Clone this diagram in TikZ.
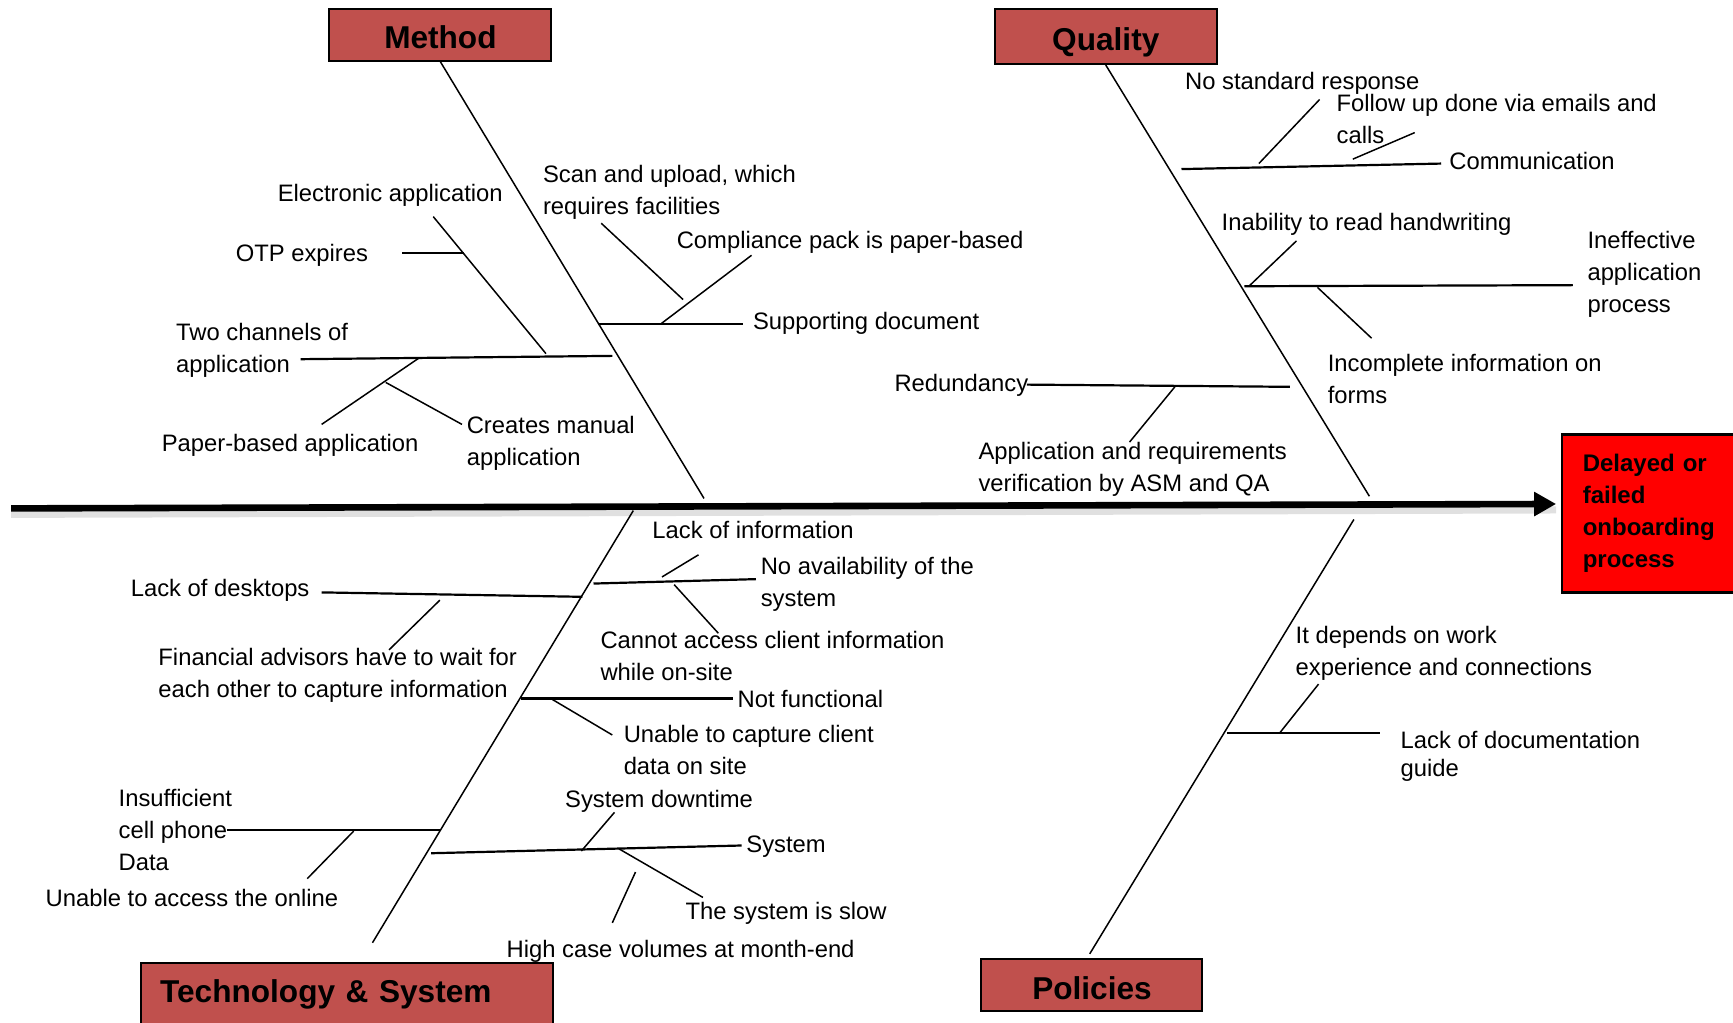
\documentclass[tikz,border=0pt]{standalone}
\usepackage{fontspec}
\setmainfont{Liberation Sans}
\usetikzlibrary{arrows.meta, positioning}
\definecolor{catred}{HTML}{C0504D}
\definecolor{effred}{HTML}{FF0000}

\begin{document}
\begin{tikzpicture}[x=0.5526pt, y=-0.5526pt,
    cat/.style={draw=black, line width=1pt, fill=catred, inner sep=0pt,
        text height=14.1pt, text depth=0pt,
        font=\fontsize{15.8}{19}\selectfont\bfseries},
    lbl/.style={anchor=north west, inner sep=0pt, align=left,
        font=\fontsize{11.9}{16}\selectfont},
    bone/.style={line width=0.75pt},
    branch/.style={line width=1.1pt},
    twig/.style={line width=0.75pt}]
    \useasboundingbox (0,0) rectangle (1568,925);
    \clip (0,0) rectangle (1568,925);

    % Effect and spine
    \node (eff) [draw=black, line width=1.2pt, fill=effred, anchor=north west,
        minimum width=90pt, minimum height=79pt, text width=69pt, inner xsep=10.5pt,
        align=left, font=\fontsize{12}{16}\selectfont\bfseries]
        at (1412,392) {Delayed or\\failed\\onboarding\\process};
    \coordinate (tail) at (10,460);
    \coordinate (head) at (1408,456);
    \draw[line width=3.5pt, black!12, transform canvas={yshift=-3pt}] (tail) -- (head);
    \draw[line width=3.3pt, -{Triangle[length=11pt,width=11.5pt]}] (tail) -- (head);

    % Category boxes
    \node (meth) [cat, minimum width=111pt, minimum height=26pt] at (398.5,31.5) {Method};
    \node (qual) [cat, minimum width=111pt, minimum height=27.6pt] at (1000.5,33) {Quality};
    \node (tech) [cat, anchor=north west, minimum height=31pt, text width=186.8pt,
        text height=9.1pt, text depth=0pt,
        inner xsep=9.4pt, align=left] at (127,870) {Technology \& System};
    \node (poli) [cat, minimum width=110.5pt, minimum height=26pt] at (988,891.5) {Policies};

    % Method
    \coordinate (mfoot) at (637,451);
    \draw[bone] (meth.south) -- (mfoot);
    \coordinate (sd0) at (541,293); \coordinate (sd1) at (672,293);
    \coordinate (cp0) at (598,293); \coordinate (cp1) at (680,231);
    \coordinate (su0) at (618,271); \coordinate (su1) at (544,202);
    \draw[branch] (sd0) -- (sd1);
    \draw[twig] (cp0) -- (cp1);
    \draw[twig] (su0) -- (su1);
    \coordinate (tc0) at (554,322); \coordinate (tc1) at (272,325);
    \coordinate (ea0) at (494,320); \coordinate (ea1) at (392,196);
    \coordinate (ot0) at (420,229); \coordinate (ot1) at (364,229);
    \coordinate (pb0) at (379,324); \coordinate (pb1) at (291,384);
    \coordinate (cm0) at (349,346); \coordinate (cm1) at (418,384);
    \draw[branch] (tc0) -- (tc1);
    \draw[twig] (ea0) -- (ea1);
    \draw[twig] (ot0) -- (ot1);
    \draw[twig] (pb0) -- (pb1);
    \draw[twig] (cm0) -- (cm1);
    \node (scan) [lbl] at (491,149) {Scan and upload, which\\requires facilities};
    \node (comp) [lbl] at (612,209) {Compliance pack is paper-based};
    \node (supp) [lbl] at (681,282) {Supporting document};
    \node (elec) [lbl] at (251,166) {Electronic application};
    \node (otp) [lbl] at (213,221) {OTP expires};
    \node (twoch) [lbl] at (159,292) {Two channels of\\application};
    \node (paper) [lbl] at (146,393) {Paper-based application};
    \node (creat) [lbl] at (422,376) {Creates manual\\application};

    % Quality
    \coordinate (qfoot) at (1239,449);
    \draw[bone] (qual.south) -- (qfoot);
    \coordinate (co0) at (1069,153); \coordinate (co1) at (1304,148);
    \coordinate (ns0) at (1139,148); \coordinate (ns1) at (1194,90);
    \coordinate (fu0) at (1224,144); \coordinate (fu1) at (1280,120);
    \draw[branch] (co0) -- (co1);
    \draw[twig] (ns0) -- (ns1);
    \draw[twig] (fu0) -- (fu1);
    \coordinate (ie0) at (1126,259); \coordinate (ie1) at (1423,258);
    \coordinate (ih0) at (1130,259); \coordinate (ih1) at (1173,218);
    \coordinate (ic0) at (1192,260); \coordinate (ic1) at (1241,306);
    \draw[branch] (ie0) -- (ie1);
    \draw[twig] (ih0) -- (ih1);
    \draw[twig] (ic0) -- (ic1);
    \coordinate (rd0) at (929,348); \coordinate (rd1) at (1167,350);
    \coordinate (av0) at (1063,350); \coordinate (av1) at (1022,400);
    \draw[branch] (rd0) -- (rd1);
    \draw[twig] (av0) -- (av1);
    \node (nostd) [lbl] at (1072,65) {No standard response};
    \node (follow) [lbl] at (1209,85) {Follow up done via emails and\\calls};
    \node (comm) [lbl] at (1311,137) {Communication};
    \node (inab) [lbl] at (1105,193) {Inability to read handwriting};
    \node (ineff) [lbl] at (1436,209) {Ineffective\\application\\process};
    \node (incomp) [lbl] at (1201,320) {Incomplete information on\\forms};
    \node (redund) [lbl] at (809,338) {Redundancy};
    \node (appver) [lbl] at (885,400) {Application and requirements\\verification by ASM and QA};

    % Technology & System
    \coordinate (ttop) at (573,462); \coordinate (tfoot) at (337,853);
    \draw[bone] (ttop) -- (tfoot);
    \coordinate (na0) at (537,528); \coordinate (na1) at (684,524);
    \coordinate (li0) at (599,522); \coordinate (li1) at (632,502);
    \coordinate (ca0) at (610,529); \coordinate (ca1) at (650,573);
    \draw[branch] (na0) -- (na1);
    \draw[twig] (li0) -- (li1);
    \draw[twig] (ca0) -- (ca1);
    \coordinate (ld0) at (527,540); \coordinate (ld1) at (291,536);
    \coordinate (fa0) at (398,543); \coordinate (fa1) at (352,588);
    \draw[branch] (ld0) -- (ld1);
    \draw[twig] (fa0) -- (fa1);
    \coordinate (nf0) at (471,632); \coordinate (nf1) at (663,632);
    \coordinate (uc0) at (500,633); \coordinate (uc1) at (554,665);
    \draw[branch] (nf0) -- (nf1);
    \draw[twig] (uc0) -- (uc1);
    \coordinate (is0) at (398,751); \coordinate (is1) at (205,751);
    \coordinate (ua0) at (320,752); \coordinate (ua1) at (278,795);
    \draw[branch] (is0) -- (is1);
    \draw[twig] (ua0) -- (ua1);
    \coordinate (sy0) at (390,772); \coordinate (sy1) at (671,765);
    \coordinate (dt0) at (526,770); \coordinate (dt1) at (556,735);
    \coordinate (sl0) at (560,768); \coordinate (sl1) at (636,812);
    \coordinate (hc0) at (575,789); \coordinate (hc1) at (554,835);
    \draw[branch] (sy0) -- (sy1);
    \draw[twig] (dt0) -- (dt1);
    \draw[twig] (sl0) -- (sl1);
    \draw[twig] (hc0) -- (hc1);
    \node (lackinf) [lbl] at (590,471) {Lack of information};
    \node (noavail) [lbl] at (688,504) {No availability of the\\system};
    \node (desk) [lbl] at (118,524) {Lack of desktops};
    \node (cannot) [lbl] at (543,571) {Cannot access client information\\while on-site};
    \node (finadv) [lbl] at (143,586) {Financial advisors have to wait for\\each other to capture information};
    \node (notfun) [lbl] at (667,624) {Not functional};
    \node (unacap) [lbl] at (564,656) {Unable to capture client\\data on site};
    \node (downt) [lbl] at (511,715) {System downtime};
    \node (insuff) [lbl] at (107,714) {Insufficient\\cell phone\\Data};
    \node (syst) [lbl] at (675,756) {System};
    \node (unaacc) [lbl] at (41,804) {Unable to access the online};
    \node (slow) [lbl] at (620,816) {The system is slow};
    \node (highc) [lbl] at (458,850) {High case volumes at month-end};

    % Policies
    \coordinate (ptop) at (1225,470); \coordinate (pfoot) at (986,863);
    \draw[bone] (ptop) -- (pfoot);
    \coordinate (dg0) at (1110,663); \coordinate (dg1) at (1249,663);
    \coordinate (wd0) at (1158,663); \coordinate (wd1) at (1193,619);
    \draw[branch] (dg0) -- (dg1);
    \draw[twig] (wd0) -- (wd1);
    \node (depend) [lbl] at (1172,566) {It depends on work\\experience and connections};
    \node (docg) [lbl] at (1267,661) {Lack of documentation\\[-2pt]guide};
\end{tikzpicture}
\end{document}
